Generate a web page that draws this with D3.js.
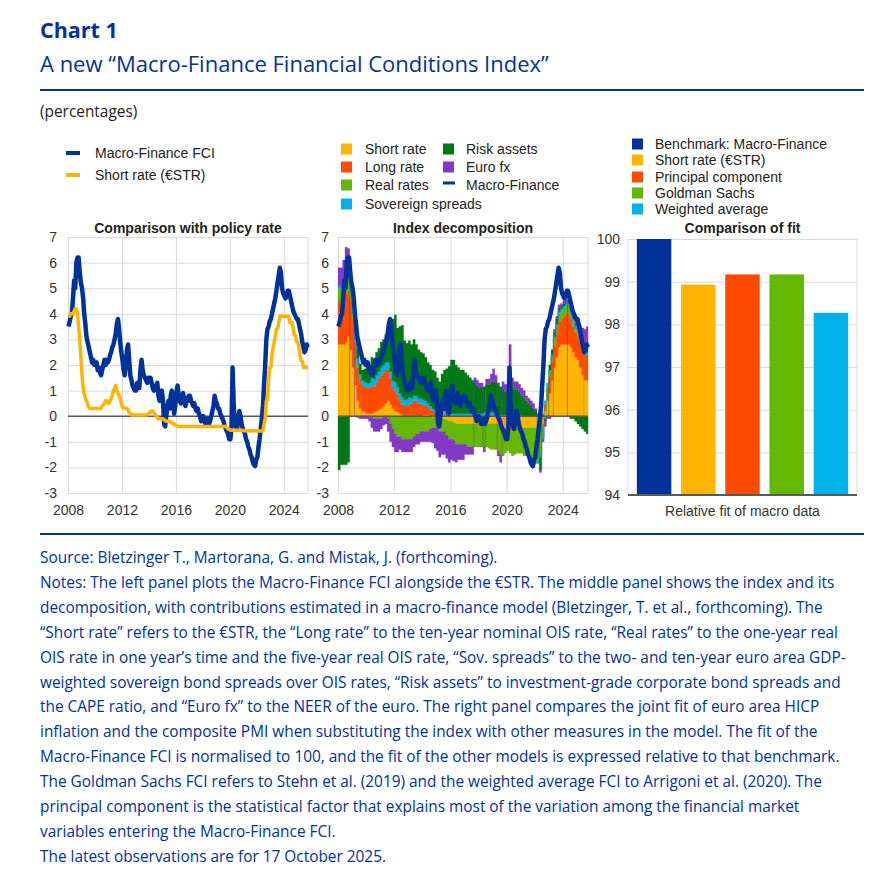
<!DOCTYPE html>
<html>
<head>
<meta charset="utf-8">
<script src="https://cdn.jsdelivr.net/npm/d3@7"></script>
<style>
  body { margin: 0; background: #ffffff; }
</style>
</head>
<body>
<script>
'use strict';

/******************************Chart data**********************************/

var yearTicks = [2008, 2012, 2016, 2020, 2024];
var rateTicks = [-3, -2, -1, 0, 1, 2, 3, 4, 5, 6, 7];
var fitTicks = [94, 95, 96, 97, 98, 99, 100];

// monthly, Jan 2008 - Oct 2025
var fciValues = [
  3.5, 3.7, 3.9, 4.0, 4.6, 5.3, 5.0, 6.0, 6.2, 6.2, 5.6, 5.2,   // 2008
  5.0, 4.6, 4.0, 3.6, 3.1, 2.9, 2.7, 2.5, 2.3, 2.1, 2.2, 2.0,   // 2009
  2.0, 2.1, 1.8, 1.9, 1.7, 1.6, 1.8, 2.0, 2.2, 2.0, 2.2, 2.1,   // 2010
  2.2, 2.4, 2.5, 2.7, 2.8, 3.0, 3.2, 3.6, 3.8, 3.4, 2.9, 2.5,   // 2011
  2.2, 1.8, 1.6, 2.0, 2.6, 2.8, 2.2, 1.6, 1.4, 1.2, 1.1, 1.0,   // 2012
  1.0, 1.3, 1.2, 1.1, 1.8, 2.2, 1.8, 1.6, 1.5, 1.4, 1.3, 1.5,   // 2013
  1.4, 1.5, 1.3, 1.1, 1.0, 1.1, 1.2, 1.3, 0.8, 0.6, 0.8, 1.0,   // 2014
  0.6, -0.3, -0.4, 0.0, 0.4, 0.6, 0.3, 0.8, 1.0, 0.5, 0.1, 0.4, // 2015
  0.9, 1.2, 0.8, 0.6, 0.5, 0.8, 0.9, 0.6, 0.4, 0.7, 0.6, 0.8,   // 2016
  0.8, 0.6, 0.5, 0.4, 0.5, 0.3, 0.2, 0.3, 0.1, 0.0, -0.2, -0.1, // 2017
  0.0, -0.2, -0.3, -0.2, -0.1, -0.3, -0.2, 0.0, 0.2, 0.4, 0.8, 0.6, // 2018
  0.5, 0.3, 0.3, 0.1, 0.0, -0.1, -0.2, -0.4, -0.5, -0.6, -0.7, -0.9, // 2019
  -0.9, -0.4, 1.9, 0.4, -0.2, -0.4, -0.5, -0.1, 0.2, 0.0, -0.3, -0.5, // 2020
  -0.6, -0.7, -0.9, -1.0, -1.2, -1.3, -1.5, -1.6, -1.8, -1.9, -1.95, -1.7, // 2021
  -1.6, -1.2, -0.9, -0.5, -0.1, 0.4, 1.2, 2.0, 3.0, 3.4, 3.5, 3.7, // 2022
  3.8, 4.0, 4.2, 4.4, 4.6, 4.9, 5.2, 5.5, 5.8, 5.6, 5.0, 4.8,   // 2023
  4.7, 4.6, 4.7, 4.9, 4.9, 4.7, 4.5, 4.3, 4.1, 4.0, 3.9, 3.8,   // 2024
  3.8, 3.6, 3.4, 3.2, 2.9, 2.7, 2.5, 2.6, 2.8, 2.7              // 2025
];

var shortRateValues = [
  3.9, 3.9, 4.0, 4.0, 4.0, 4.1, 4.2, 4.2, 4.0, 3.5, 3.0, 2.3,   // 2008
  1.6, 1.1, 0.9, 0.7, 0.6, 0.5, 0.35, 0.3, 0.3, 0.3, 0.3, 0.3,  // 2009
  0.3, 0.3, 0.3, 0.3, 0.3, 0.3, 0.4, 0.45, 0.5, 0.6, 0.6, 0.5,  // 2010
  0.5, 0.6, 0.7, 0.8, 1.0, 1.1, 1.2, 1.0, 0.9, 0.8, 0.7, 0.5,   // 2011
  0.35, 0.35, 0.3, 0.3, 0.3, 0.25, 0.15, 0.1, 0.05, 0.05, 0.05, 0.05, // 2012
  0.05, 0.05, 0.05, 0.05, 0.05, 0.05, 0.05, 0.05, 0.05, 0.05, 0.05, 0.1, // 2013
  0.15, 0.15, 0.2, 0.2, 0.15, 0.05, 0.0, -0.05, -0.1, -0.1, -0.1, -0.1, // 2014
  -0.1, -0.15, -0.15, -0.2, -0.2, -0.2, -0.2, -0.25, -0.25, -0.3, -0.3, -0.35, // 2015
  -0.35, -0.4, -0.4, -0.4, -0.4, -0.4, -0.4, -0.4, -0.4, -0.4, -0.4, -0.4, // 2016
  -0.4, -0.4, -0.4, -0.4, -0.4, -0.4, -0.4, -0.4, -0.4, -0.4, -0.4, -0.4, // 2017
  -0.4, -0.4, -0.4, -0.4, -0.4, -0.4, -0.4, -0.4, -0.4, -0.4, -0.4, -0.4, // 2018
  -0.4, -0.4, -0.4, -0.4, -0.4, -0.4, -0.4, -0.4, -0.4, -0.45, -0.5, -0.5, // 2019
  -0.55, -0.55, -0.55, -0.55, -0.55, -0.55, -0.55, -0.55, -0.55, -0.55, -0.55, -0.55, // 2020
  -0.57, -0.57, -0.57, -0.57, -0.57, -0.57, -0.57, -0.57, -0.57, -0.57, -0.57, -0.57, // 2021
  -0.58, -0.58, -0.58, -0.58, -0.58, -0.58, -0.3, -0.09, 0.6, 0.65, 1.37, 1.9, // 2022
  1.9, 2.4, 2.65, 2.9, 3.15, 3.4, 3.4, 3.65, 3.9, 3.9, 3.9, 3.9, // 2023
  3.9, 3.9, 3.9, 3.9, 3.9, 3.65, 3.65, 3.65, 3.4, 3.15, 3.15, 2.9, // 2024
  2.9, 2.65, 2.4, 2.15, 2.15, 1.9, 1.9, 1.9, 1.9, 1.9          // 2025
];

// contributions, every second month (Jan, Mar, May, Jul, Sep, Nov), Jan 2008 - Sep 2025
var compShortRate = [
  2.8, 2.8, 2.8, 2.9, 3.1, 2.6,   1.9, 1.2, 0.6, 0.3, 0.2, 0.15,
  0.1, 0.1, 0.1, 0.15, 0.2, 0.25, 0.3, 0.4, 0.5, 0.6, 0.45, 0.3,
  0.2, 0.15, 0.1, 0.05, 0.0, 0.0, 0.0, 0.0, 0.0, 0.0, 0.0, 0.0,
  0.05, 0.05, 0.05, 0.0, -0.05, -0.05, -0.05, -0.1, -0.1, -0.1, -0.15, -0.2,
  -0.2, -0.25, -0.3, -0.3, -0.3, -0.3, -0.3, -0.3, -0.3, -0.3, -0.3, -0.3,
  -0.3, -0.3, -0.3, -0.3, -0.3, -0.3, -0.3, -0.3, -0.3, -0.35, -0.4, -0.45,
  -0.45, -0.45, -0.45, -0.45, -0.45, -0.45, -0.45, -0.45, -0.45, -0.45, -0.45, -0.45,
  -0.45, -0.45, -0.45, -0.3, 0.2, 0.6, 0.9, 1.4, 1.9, 2.3, 2.7, 2.8,
  2.8, 2.8, 2.8, 2.7, 2.5, 2.3,   2.2, 1.9, 1.6, 1.4, 1.4
];
var compLongRate = [
  1.7, 1.6, 1.7, 1.9, 1.8, 1.9,   1.9, 1.7, 1.3, 1.1, 1.0, 1.0,
  1.0, 1.0, 1.1, 1.0, 1.1, 1.2,   1.3, 1.3, 1.3, 1.2, 1.0, 0.8,
  0.8, 0.7, 0.5, 0.4, 0.4, 0.4,   0.5, 0.5, 0.6, 0.6, 0.5, 0.5,
  0.4, 0.35, 0.3, 0.25, 0.2, 0.15, 0.1, 0.05, 0.15, 0.1, 0.05, 0.05,
  0.0, 0.0, 0.0, 0.0, 0.0, 0.0,   0.0, 0.0, 0.0, 0.0, 0.0, 0.0,
  0.0, 0.0, 0.0, 0.0, 0.0, 0.0,   0.0, 0.0, 0.0, -0.05, -0.05, 0.0,
  0.0, -0.1, -0.15, -0.05, 0.0, 0.0, 0.0, 0.0, 0.0, 0.0, 0.0, 0.0,
  0.0, 0.0, 0.05, 0.1, 0.3, 0.5,  0.6, 0.7, 0.8, 0.9, 1.0, 1.0,
  1.1, 1.2, 1.2, 1.1, 1.0, 1.0,   1.0, 1.0, 1.0, 1.0, 1.0
];
var compRealRates = [
  0.5, 0.5, 0.6, 0.7, 0.5, 0.3,   0.2, 0.1, 0.1, 0.05, 0.0, 0.0,
  0.0, 0.0, -0.05, -0.1, -0.1, -0.1, -0.1, -0.05, 0.0, -0.1, -0.3, -0.5,
  -0.7, -0.8, -0.8, -0.9, -0.9, -0.9, -0.9, -0.9, -0.8, -0.7, -0.7, -0.6,
  -0.6, -0.6, -0.6, -0.5, -0.4, -0.4, -0.4, -0.5, -0.5, -0.5, -0.6, -0.7,
  -0.7, -0.7, -0.8, -0.8, -0.8, -0.8, -0.8, -0.9, -0.9, -0.9, -0.9, -0.9,
  -0.9, -0.9, -0.9, -0.9, -0.95, -1.0, -1.0, -1.0, -1.05, -1.1, -1.1, -1.0,
  -0.9, -0.9, -0.95, -1.0, -1.0, -1.0, -1.0, -1.1, -1.1, -1.2, -1.2, -1.3,
  -1.4, -1.3, -1.0, -0.5, -0.1, 0.1, 0.2, 0.2, 0.3, 0.3, 0.3, 0.3,
  0.3, 0.3, 0.3, 0.2, 0.2, 0.1,   0.1, 0.05, 0.05, 0.0, 0.0
];
var compSovSpreads = [
  0.1, 0.1, 0.1, 0.1, 0.15, 0.2,  0.3, 0.3, 0.25, 0.2, 0.2, 0.2,
  0.2, 0.2, 0.3, 0.3, 0.3, 0.3,   0.3, 0.3, 0.3, 0.3, 0.3, 0.3,
  0.35, 0.3, 0.3, 0.3, 0.25, 0.25, 0.25, 0.2, 0.2, 0.2, 0.2, 0.2,
  0.2, 0.2, 0.15, 0.15, 0.1, 0.1, 0.1, 0.1, 0.1, 0.1, 0.1, 0.1,
  0.1, 0.1, 0.1, 0.1, 0.1, 0.1,   0.1, 0.1, 0.1, 0.1, 0.1, 0.1,
  0.1, 0.1, 0.15, 0.15, 0.15, 0.15, 0.15, 0.1, 0.1, 0.05, 0.05, 0.05,
  0.05, 0.1, 0.1, 0.05, 0.05, 0.05, 0.0, 0.0, 0.0, 0.0, 0.0, 0.0,
  0.0, -0.1, -0.15, -0.1, 0.1, 0.1, 0.1, 0.1, 0.1, 0.1, 0.1, 0.1,
  0.1, 0.1, 0.1, 0.1, 0.1, 0.1,   0.1, 0.1, 0.1, 0.1, 0.1
];
var compRiskAssets = [
  -2.1, -1.9, -1.9, -1.9, -1.8, 0.4, 0.5, 0.5, 0.4, 0.4, 0.4, 0.5,
  0.6, 0.7, 0.8, 0.8, 0.9, 0.9,   1.0, 1.0, 1.1, 1.3, 1.8, 2.4,
  2.6, 2.3, 2.6, 2.8, 2.3, 2.2,   2.2, 2.1, 2.2, 2.0, 1.9, 1.8,
  1.8, 1.7, 1.6, 1.6, 1.5, 1.5,   1.3, 1.2, 1.4, 1.6, 1.7, 1.8,
  2.1, 2.1, 1.9, 1.8, 1.7, 1.7,   1.6, 1.5, 1.4, 1.3, 1.2, 1.1,
  1.0, 1.0, 1.0, 1.1, 1.1, 1.2,   1.2, 1.2, 1.2, 1.1, 1.0, 0.9,
  0.9, 1.8, 1.2, 1.0, 1.0, 0.9,   0.8, 0.7, 0.6, 0.5, 0.4, 0.3,
  0.2, 0.1, -0.5, 0.0, -0.1, 0.0, 0.2, 0.2, 0.2, 0.2, 0.15, 0.1,
  0.1, 0.05, 0.0, -0.1, -0.1, -0.2, -0.3, -0.4, -0.5, -0.6, -0.7
];
var compEuroFx = [
  0.7, 0.8, 0.9, 1.0, 1.0, 0.1,   0.1, 0.0, -0.05, -0.1, -0.1, -0.1,
  -0.1, -0.2, -0.4, -0.5, -0.5, -0.5, -0.4, -0.3, -0.3, -0.5, -0.7, -0.7,
  -0.7, -0.6, -0.5, -0.5, -0.5, -0.5, -0.5, -0.5, -0.4, -0.4, -0.4, -0.4,
  -0.4, -0.4, -0.4, -0.5, -0.6, -0.8, -0.9, -1.0, -0.9, -0.9, -0.9, -0.9,
  -0.8, -0.8, -0.7, -0.6, -0.6, -0.6, -0.4, -0.3, -0.3, -0.3, 0.2, 0.2,
  0.2, 0.2, -0.2, 0.2, 0.2, 0.3,  0.5, 0.3, -0.2, -0.3, 0.3, 0.3,
  0.3, 0.9, 0.2, 0.3, 0.3, 0.3,   0.3, 0.3, 0.2, 0.2, 0.2, 0.2,
  0.1, 0.0, -0.1, -0.1, -0.2, -0.1, -0.1, 0.0, 0.1, 0.1, 0.1, 0.1,
  0.1, 0.1, 0.2, 0.2, 0.2, 0.3,   0.4, 0.5, 0.7, 0.9, 1.0
];

var fitCategories = ["Benchmark: Macro-Finance", "Short rate (€STR)", "Principal component", "Goldman Sachs", "Weighted average"];
var fitValues = [100, 98.93, 99.17, 99.17, 98.27];

/******************************Styles**************************************/

var ecbBlue = "#003299";
var colYellow = "#ffb400";
var colOrange = "#ff4b00";
var colGreen = "#65b800";
var colLightBlue = "#00b1ea";
var colDarkGreen = "#007816";
var colPurple = "#8139c6";
var gridColour = "#d9d9d9";
var axisColour = "#595959";
var textColour = "#222222";
var chartFont = "'Liberation Sans', Arial, sans-serif";
var noteFont = "'Open Sans', 'Noto Sans', sans-serif";
var chartSize = "14px";

var plotTop = 237, plotBottom = 493;
var startDate = new Date(2008, 0, 1);
var endDate = new Date(2025, 9, 17);

var svg = d3.select("body").append("svg")
  .attr("width", 895)
  .attr("height", 876)
  .style("font-family", chartFont);

/******************************Header**************************************/

svg.append("text").attr("x", 40).attr("y", 38)
  .style("font-family", noteFont).style("font-weight", "700").style("font-size", "21.5px")
  .style("fill", ecbBlue).text("Chart 1");

svg.append("text").attr("x", 40).attr("y", 72)
  .style("font-family", noteFont).style("font-size", "22px")
  .style("fill", ecbBlue).text("A new “Macro-Finance Financial Conditions Index”");

svg.append("line").attr("x1", 40).attr("x2", 864).attr("y1", 90).attr("y2", 90)
  .attr("stroke", ecbBlue).attr("stroke-width", 2);

svg.append("text").attr("x", 40).attr("y", 117)
  .style("font-family", noteFont).style("font-size", "15.4px")
  .style("fill", textColour).text("(percentages)");

/**************************Time panel helper*******************************/

var monthDates = fciValues.map(function(v, i) { return new Date(2008, i, 15); });
var compDates = compShortRate.map(function(v, i) { return new Date(2008, 2 * i, 1); });
var yearDates = yearTicks.map(function(y) { return new Date(y, 0, 1); });

function styleAxisText(sel) {
  sel.selectAll("text")
    .style("font-family", chartFont)
    .style("font-size", chartSize)
    .style("fill", "#333333");
}

function timePanel(left, right, labelRight, title) {
  var x = d3.scaleTime().domain([startDate, endDate]).range([left, right]);
  var y = d3.scaleLinear().domain([-3, 7]).range([plotBottom, plotTop]);
  var g = svg.append("g");

  // horizontal grid
  g.append("g").attr("transform", "translate(" + left + ",0)")
    .call(d3.axisLeft(y).tickValues(rateTicks).tickSize(-(right - left)).tickFormat(""))
    .call(function(s) { s.select(".domain").remove(); })
    .selectAll("line").attr("stroke", gridColour);

  // vertical grid
  g.append("g").attr("transform", "translate(0," + plotBottom + ")")
    .call(d3.axisBottom(x).tickValues(yearDates).tickSize(-(plotBottom - plotTop)).tickFormat(""))
    .call(function(s) { s.select(".domain").remove(); })
    .selectAll("line").attr("stroke", gridColour);

  g.append("line").attr("x1", right).attr("x2", right).attr("y1", plotTop).attr("y2", plotBottom)
    .attr("stroke", gridColour);

  // y labels
  g.append("g").attr("transform", "translate(" + labelRight + ",0)")
    .call(d3.axisLeft(y).tickValues(rateTicks).tickSize(0).tickPadding(0)
      .tickFormat(function(d) { return String(d); }))
    .call(function(s) { s.select(".domain").remove(); })
    .call(styleAxisText);

  // x labels
  g.append("g").attr("transform", "translate(0," + plotBottom + ")")
    .call(d3.axisBottom(x).tickValues(yearDates).tickSize(0).tickPadding(12)
      .tickFormat(d3.timeFormat("%Y")))
    .call(function(s) { s.select(".domain").remove(); })
    .call(styleAxisText);

  svg.append("text").attr("x", (left + right) / 2).attr("y", 233)
    .attr("text-anchor", "middle")
    .style("font-size", chartSize).style("font-weight", "700").style("fill", textColour)
    .text(title);

  return { g: g, x: x, y: y, left: left, right: right };
}

function drawZero(p) {
  p.g.append("line").attr("x1", p.left).attr("x2", p.right)
    .attr("y1", p.y(0)).attr("y2", p.y(0))
    .attr("stroke", axisColour).attr("stroke-width", 1.5);
}

function drawLine(p, values, colour, width) {
  var line = d3.line()
    .x(function(d, i) { return p.x(monthDates[i]); })
    .y(function(d) { return p.y(d); });
  p.g.append("path").datum(values)
    .attr("fill", "none").attr("stroke", colour).attr("stroke-width", width)
    .attr("stroke-linejoin", "round")
    .attr("d", line);
}

/**************************Left panel**************************************/

var leftPanel = timePanel(68, 308, 57, "Comparison with policy rate");
drawZero(leftPanel);
drawLine(leftPanel, fciValues, ecbBlue, 4.5);
drawLine(leftPanel, shortRateValues, colYellow, 3.5);

/**************************Middle panel************************************/

var midPanel = timePanel(338, 588, 329, "Index decomposition");

var compKeys = ["short", "long", "real", "sov", "risk", "fx"];
var compColours = [colYellow, colOrange, colGreen, colLightBlue, colDarkGreen, colPurple];
var compRows = compDates.map(function(d, i) {
  return { date: d, short: compShortRate[i], long: compLongRate[i], real: compRealRates[i],
           sov: compSovSpreads[i], risk: compRiskAssets[i], fx: compEuroFx[i] };
});
// the last period runs to the final observation
compRows.push(Object.assign({}, compRows[compRows.length - 1], { date: endDate }));

var stacked = d3.stack().keys(compKeys).offset(d3.stackOffsetDiverging)(compRows);

var compArea = d3.area()
  .curve(d3.curveStepAfter)
  .x(function(d) { return midPanel.x(d.data.date); })
  .y0(function(d) { return midPanel.y(d[0]); })
  .y1(function(d) { return midPanel.y(d[1]); });

midPanel.g.append("g").selectAll("path").data(stacked).join("path")
  .attr("fill", function(d, i) { return compColours[i]; })
  .attr("stroke", function(d, i) { return compColours[i]; })
  .attr("stroke-width", 0.3)
  .attr("d", compArea);

drawZero(midPanel);
drawLine(midPanel, fciValues, ecbBlue, 4.5);

/**************************Right panel*************************************/

var fitLeft = 628, fitRight = 857, fitTop = 239, fitBottom = 495;
var xFit = d3.scaleBand().domain(fitCategories).range([fitLeft, fitRight])
  .paddingInner(0.22).paddingOuter(0.2);
var yFit = d3.scaleLinear().domain([94, 100]).range([fitBottom, fitTop]);
var fitColours = [ecbBlue, colYellow, colOrange, colGreen, colLightBlue];

var fitG = svg.append("g");
fitG.append("g").attr("transform", "translate(" + fitLeft + ",0)")
  .call(d3.axisLeft(yFit).tickValues(fitTicks).tickSize(-(fitRight - fitLeft)).tickFormat(""))
  .call(function(s) { s.select(".domain").remove(); })
  .selectAll("line").attr("stroke", gridColour);

[fitLeft, fitRight].forEach(function(xx) {
  fitG.append("line").attr("x1", xx).attr("x2", xx).attr("y1", fitTop).attr("y2", fitBottom)
    .attr("stroke", gridColour);
});

fitG.selectAll("rect.bar").data(fitValues).join("rect")
  .attr("class", "bar")
  .attr("x", function(d, i) { return xFit(fitCategories[i]); })
  .attr("width", xFit.bandwidth())
  .attr("y", function(d) { return yFit(d); })
  .attr("height", function(d) { return fitBottom - yFit(d); })
  .attr("fill", function(d, i) { return fitColours[i]; });

fitG.append("line").attr("x1", fitLeft).attr("x2", fitRight).attr("y1", fitBottom).attr("y2", fitBottom)
  .attr("stroke", axisColour).attr("stroke-width", 2);

fitG.append("g").attr("transform", "translate(620,0)")
  .call(d3.axisLeft(yFit).tickValues(fitTicks).tickSize(0).tickPadding(0)
    .tickFormat(function(d) { return String(d); }))
  .call(function(s) { s.select(".domain").remove(); })
  .call(styleAxisText);

fitG.append("text").attr("x", (fitLeft + fitRight) / 2).attr("y", 516)
  .attr("text-anchor", "middle").style("font-size", chartSize).style("fill", "#333333")
  .text("Relative fit of macro data");

svg.append("text").attr("x", (fitLeft + fitRight) / 2).attr("y", 233)
  .attr("text-anchor", "middle")
  .style("font-size", chartSize).style("font-weight", "700").style("fill", textColour)
  .text("Comparison of fit");

/******************************Legends*************************************/

function legendText(x, y, label) {
  svg.append("text").attr("x", x).attr("y", y)
    .style("font-size", chartSize).style("fill", textColour).text(label);
}
function legendBox(x, yc, colour) {
  svg.append("rect").attr("x", x).attr("y", yc - 5.5).attr("width", 11).attr("height", 11)
    .attr("fill", colour);
}
function legendDash(x, yc, colour, w) {
  svg.append("rect").attr("x", x).attr("y", yc - 2).attr("width", w).attr("height", 4)
    .attr("fill", colour);
}

legendDash(66, 153, ecbBlue, 14);
legendText(95, 158, "Macro-Finance FCI");
legendDash(66, 175, colYellow, 14);
legendText(95, 180, "Short rate (€STR)");

var midLegendRows = [149, 167, 185, 204];
var midLegendCol1 = ["Short rate", "Long rate", "Real rates", "Sovereign spreads"];
var midLegendCol1Colours = [colYellow, colOrange, colGreen, colLightBlue];
midLegendCol1.forEach(function(label, i) {
  legendBox(341, midLegendRows[i], midLegendCol1Colours[i]);
  legendText(365, midLegendRows[i] + 5, label);
});
legendBox(443, midLegendRows[0], colDarkGreen);
legendText(466, midLegendRows[0] + 5, "Risk assets");
legendBox(443, midLegendRows[1], colPurple);
legendText(466, midLegendRows[1] + 5, "Euro fx");
svg.append("rect").attr("x", 443).attr("y", 181.5).attr("width", 12).attr("height", 3).attr("fill", ecbBlue);
legendText(466, midLegendRows[2] + 5, "Macro-Finance");

var fitLegendRows = [144, 160, 177, 193, 209];
fitCategories.forEach(function(label, i) {
  legendBox(632, fitLegendRows[i], fitColours[i]);
  legendText(655, fitLegendRows[i] + 5, label);
});

/******************************Notes***************************************/

svg.append("line").attr("x1", 40).attr("x2", 864).attr("y1", 534).attr("y2", 534)
  .attr("stroke", ecbBlue).attr("stroke-width", 2);

var noteLines = [
  "Source: Bletzinger T., Martorana, G. and Mistak, J. (forthcoming).",
  "Notes: The left panel plots the Macro-Finance FCI alongside the €STR. The middle panel shows the index and its",
  "decomposition, with contributions estimated in a macro-finance model (Bletzinger, T. et al., forthcoming). The",
  "“Short rate” refers to the €STR, the “Long rate” to the ten-year nominal OIS rate, “Real rates” to the one-year real",
  "OIS rate in one year’s time and the five-year real OIS rate, “Sov. spreads” to the two- and ten-year euro area GDP-",
  "weighted sovereign bond spreads over OIS rates, “Risk assets” to investment-grade corporate bond spreads and",
  "the CAPE ratio, and “Euro fx” to the NEER of the euro. The right panel compares the joint fit of euro area HICP",
  "inflation and the composite PMI when substituting the index with other measures in the model. The fit of the",
  "Macro-Finance FCI is normalised to 100, and the fit of the other models is expressed relative to that benchmark.",
  "The Goldman Sachs FCI refers to Stehn et al. (2019) and the weighted average FCI to Arrigoni et al. (2020). The",
  "principal component is the statistical factor that explains most of the variation among the financial market",
  "variables entering the Macro-Finance FCI.",
  "The latest observations are for 17 October 2025."
];

svg.append("g").selectAll("text").data(noteLines).join("text")
  .attr("x", 40)
  .attr("y", function(d, i) { return 563 + i * 24.9; })
  .style("font-family", noteFont).style("font-size", "15.4px").style("fill", ecbBlue)
  .text(function(d) { return d; });
</script>
</body>
</html>
